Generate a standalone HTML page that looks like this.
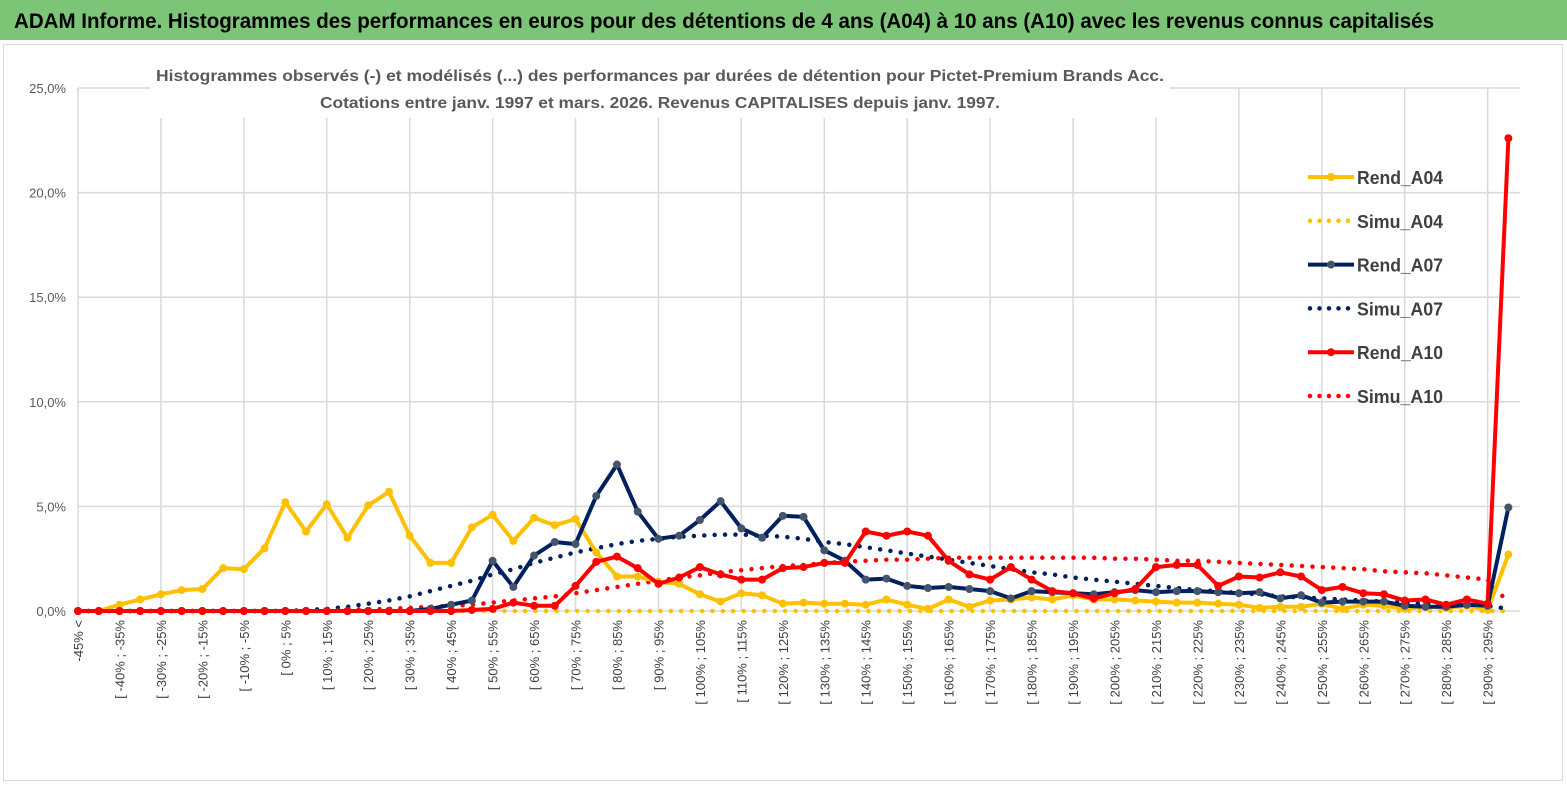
<!DOCTYPE html>
<html><head><meta charset="utf-8"><style>
body{margin:0;background:#fff;width:1567px;height:789px;overflow:hidden;font-family:"Liberation Sans",sans-serif}
</style></head><body>
<svg id="chart" width="1567" height="789" xmlns="http://www.w3.org/2000/svg" font-family="Liberation Sans, sans-serif">
<rect x="0" y="0" width="1567" height="40" fill="#7cc576"/>
<text x="14" y="28" font-size="21" font-weight="bold" textLength="1420" lengthAdjust="spacingAndGlyphs">ADAM Informe. Histogrammes des performances en euros pour des détentions de 4 ans (A04) à 10 ans (A10) avec les revenus connus capitalisés</text>
<rect x="3.5" y="44.5" width="1559" height="736" fill="none" stroke="#d9d9d9"/>
<g id="grid"></g><g id="axes"></g><g id="series"></g>
<rect x="150" y="58" width="1020" height="60" fill="#fff"/>
<text x="660" y="81" font-size="16" font-weight="bold" fill="#595959" text-anchor="middle" textLength="1008" lengthAdjust="spacingAndGlyphs">Histogrammes observés (-) et modélisés (...) des performances par durées de détention pour Pictet-Premium Brands Acc.</text>
<text x="660" y="108" font-size="16" font-weight="bold" fill="#595959" text-anchor="middle" textLength="680" lengthAdjust="spacingAndGlyphs">Cotations entre janv. 1997 et mars. 2026. Revenus CAPITALISES depuis janv. 1997.</text>
<g id="legend"></g>
</svg>
<script>
const categories=["-45% <"];for(let v=-45;v<300;v+=5)categories.push("[ "+v+"% ; "+(v+5)+"%");
const rendA04=[0,0,0.3,0.55,0.8,1.0,1.05,2.05,2.0,3.0,5.2,3.8,5.1,3.5,5.05,5.7,3.6,2.3,2.3,4.0,4.6,3.35,4.45,4.1,4.4,2.8,1.65,1.65,1.4,1.3,0.8,0.45,0.85,0.75,0.35,0.4,0.35,0.35,0.3,0.55,0.3,0.1,0.55,0.2,0.5,0.55,0.65,0.55,0.75,0.55,0.55,0.5,0.45,0.4,0.4,0.35,0.3,0.15,0.2,0.2,0.35,0.1,0.3,0.25,0.1,0.2,0.15,0.25,0.05,2.7];
const simuA04=[0,0,0,0,0,0,0,0,0,0,0,0,0,0,0,0,0,0,0,0,0,0,0,0,0,0,0,0,0,0,0,0,0,0,0,0,0,0,0,0,0,0,0,0,0,0,0,0,0,0,0,0,0,0,0,0,0,0,0,0,0,0,0,0,0,0,0,0,0,0];
const rendA07=[0,0,0,0,0,0,0,0,0,0,0,0,0,0,0,0,0,0.1,0.3,0.5,2.4,1.15,2.65,3.3,3.2,5.5,7.0,4.75,3.45,3.6,4.35,5.25,3.95,3.5,4.55,4.5,2.9,2.4,1.5,1.55,1.2,1.1,1.15,1.05,0.95,0.6,0.95,0.9,0.85,0.8,0.9,1.0,0.9,0.95,0.95,0.9,0.85,0.9,0.6,0.75,0.4,0.45,0.45,0.45,0.25,0.2,0.2,0.3,0.25,4.95];
const simuA07=[0,0,0,0,0,0,0,0,0,0,0,0.05,0.1,0.2,0.35,0.5,0.7,0.95,1.2,1.45,1.75,2.0,2.3,2.55,2.8,3.0,3.2,3.35,3.45,3.55,3.6,3.65,3.65,3.6,3.55,3.45,3.3,3.2,3.05,2.9,2.75,2.6,2.45,2.3,2.15,2.0,1.85,1.75,1.6,1.5,1.4,1.3,1.2,1.1,1.0,0.95,0.85,0.8,0.7,0.65,0.6,0.55,0.5,0.45,0.4,0.35,0.3,0.3,0.25,0.1];
const rendA10=[0,0,0,0,0,0,0,0,0,0,0,0,0,0,0,0,0,0,0,0.05,0.1,0.4,0.25,0.25,1.2,2.35,2.6,2.05,1.3,1.6,2.1,1.75,1.5,1.5,2.05,2.1,2.3,2.3,3.8,3.6,3.8,3.6,2.4,1.75,1.5,2.1,1.5,0.95,0.85,0.6,0.85,1.05,2.1,2.2,2.2,1.2,1.65,1.6,1.85,1.65,1.0,1.15,0.85,0.8,0.5,0.55,0.3,0.55,0.35,22.6];
const simuA10=[0,0,0,0,0,0,0,0,0,0,0,0,0,0.05,0.08,0.1,0.15,0.2,0.25,0.3,0.4,0.5,0.6,0.7,0.85,1.0,1.15,1.3,1.45,1.6,1.7,1.85,1.95,2.05,2.15,2.2,2.3,2.35,2.4,2.45,2.45,2.5,2.55,2.55,2.55,2.55,2.55,2.55,2.55,2.55,2.5,2.5,2.45,2.4,2.4,2.35,2.3,2.25,2.2,2.15,2.1,2.05,2.0,1.9,1.85,1.8,1.7,1.6,1.5,0.4];
const yTicks=[0,5,10,15,20,25];
const yTickLabels=["0,0%","5,0%","10,0%","15,0%","20,0%","25,0%"];
const NS="http://www.w3.org/2000/svg";
const X0=78,STEP=20.73,Y0=611,YS=20.92;
const xs=i=>X0+i*STEP, ys=v=>Y0-v*YS;
function mk(tag,at,parent){const e=document.createElementNS(NS,tag);for(const k in at)e.setAttribute(k,at[k]);document.getElementById(parent).appendChild(e);return e;}
yTicks.forEach((t,k)=>{
 const l=mk("line",{x1:X0,x2:1520,y1:ys(t),y2:ys(t),stroke:"#d9d9d9","stroke-width":1.5},"grid");
 
 
 const tx=mk("text",{x:66,y:ys(t)+5,"font-size":13,fill:"#595959","text-anchor":"end"},"axes");tx.textContent=yTickLabels[k];
 
 
});
for(let i=0;i<categories.length;i+=4){
 const l=mk("line",{x1:xs(i),x2:xs(i),y1:ys(25),y2:Y0,stroke:"#d9d9d9","stroke-width":1.5},"grid");
 
 
}
categories.forEach((c,i)=>{if(i%2)return;
 const t=mk("text",{x:0,y:0,"font-size":13,fill:"#404040","text-anchor":"end",transform:`translate(${xs(i)+5},620) rotate(-90)`},"axes");t.textContent=c;
 
 
});
function line(data,color,dotted,name,mcolor){
 const d=data.map((v,i)=>(i?"L":"M")+xs(i).toFixed(1)+","+ys(v).toFixed(1)).join("");
 const p=mk("path",dotted?{d,fill:"none",stroke:color,"stroke-width":4.5,"stroke-dasharray":"0 10.4","stroke-linecap":"round"}:{d,fill:"none",stroke:color,"stroke-width":4,"stroke-linejoin":"round"},"series");
 
 
 if(!dotted)data.forEach((v,i)=>{const c=mk("circle",{cx:xs(i),cy:ys(v),r:4,fill:mcolor},"series");
  
  });
}
line(simuA04,"#ffc000",true,"simu-a04-line");
line(simuA07,"#002060",true,"simu-a07-line");
line(simuA10,"#ff0000",true,"simu-a10-line");
line(rendA04,"#ffc000",false,"rend-a04-line","#ffc000");
line(rendA07,"#002060",false,"rend-a07-line","#44546a");
line(rendA10,"#ff0000",false,"rend-a10-line","#ff0000");
const leg=[["Rend_A04","#ffc000",0],["Simu_A04","#ffc000",1],["Rend_A07","#002060",0],["Simu_A07","#002060",1],["Rend_A10","#ff0000",0],["Simu_A10","#ff0000",1]];
leg.forEach((e,k)=>{const y=177+k*43.8;
 const l=mk("line",dotted=e[2]?{x1:1310,x2:1322+0,y1:y,y2:y}:{x1:1308,x2:1354,y1:y,y2:y},"legend");
 if(e[2]){l.setAttribute("x2","1354");l.setAttribute("stroke-dasharray","0 9.5");l.setAttribute("stroke-linecap","round");l.setAttribute("stroke-width","4.5");}else l.setAttribute("stroke-width","4");
 l.setAttribute("stroke",e[1]);
 
 
 if(!e[2]){const c=mk("circle",{cx:1331,cy:y,r:4,fill:e[1]==="#002060"?"#44546a":e[1]},"legend");}
 const t=mk("text",{x:1357,y:y+7,"font-size":18,fill:"#404040","font-weight":"bold",textLength:86,lengthAdjust:"spacingAndGlyphs"},"legend");t.textContent=e[0];
 
 
});
</script>
</body></html>
